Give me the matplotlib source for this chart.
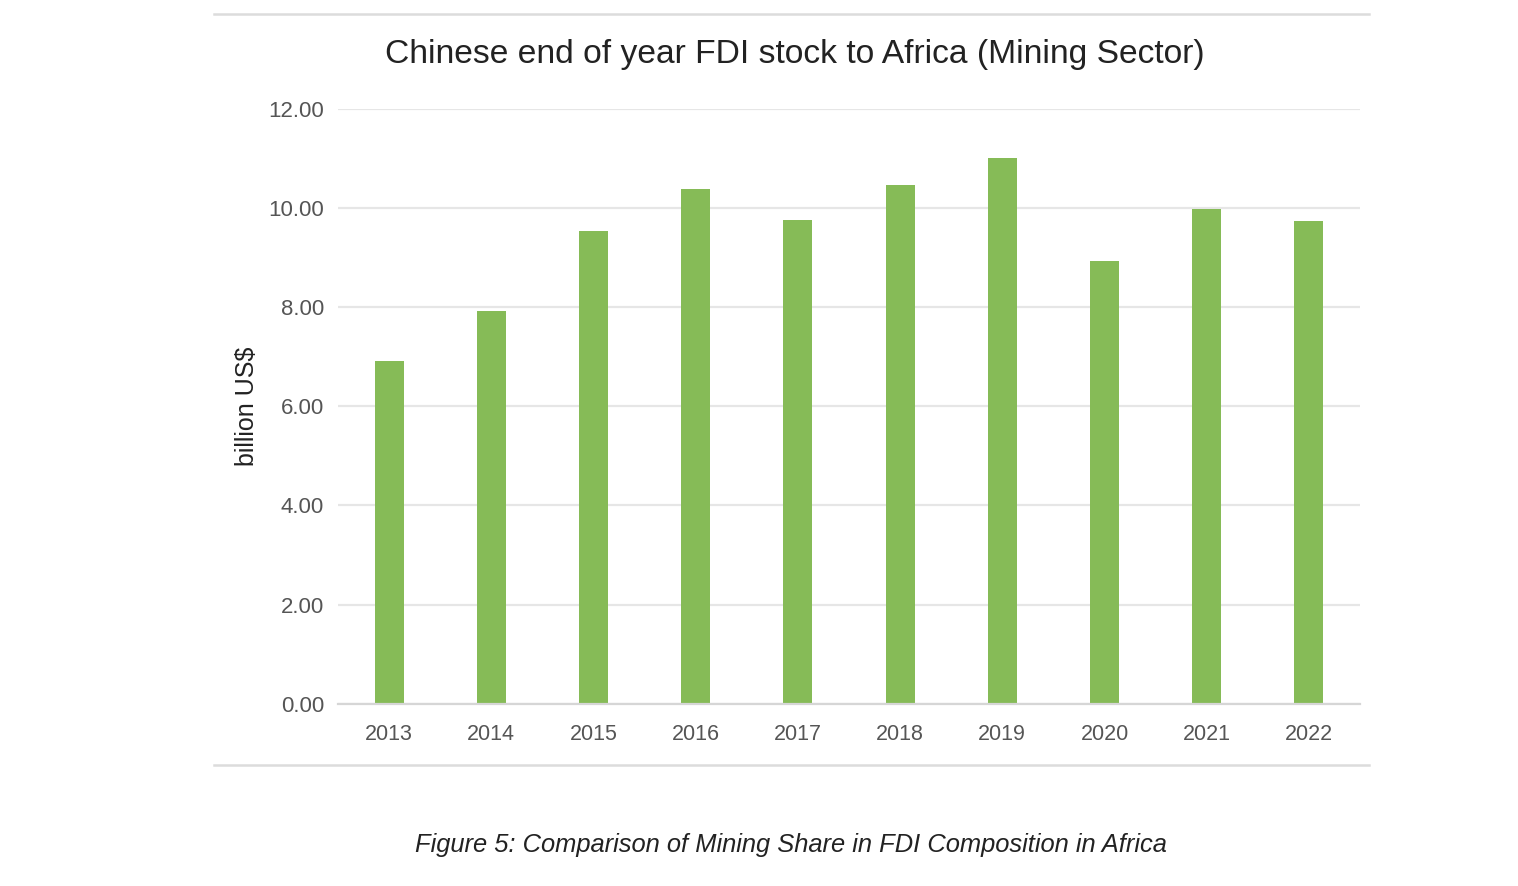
import matplotlib
matplotlib.use("Agg")
import matplotlib.pyplot as plt
from matplotlib.lines import Line2D

years = ["2013", "2014", "2015", "2016", "2017", "2018", "2019", "2020", "2021", "2022"]
values = [6.91, 7.92, 9.53, 10.38, 9.77, 10.46, 11.02, 8.93, 9.98, 9.73]
yticks = [0, 2, 4, 6, 8, 10, 12]

title = "Chinese end of year FDI stock to Africa (Mining Sector)"
ylabel = "billion US$"
caption = "Figure 5: Comparison of Mining Share in FDI Composition in Africa"

W, H = 1518, 886
fig = plt.figure(figsize=(W / 100, H / 100), dpi=100)
plt.rcParams['font.family'] = ['Liberation Sans', 'DejaVu Sans']

ax = fig.add_axes([338 / W, 1 - 703.7 / H, (1360 - 338) / W, (703.7 - 109) / H])
x = list(range(len(years)))
ax.bar(x, values, width=0.285, color="#86BB57", zorder=3)
ax.set_xlim(-0.5, len(years) - 0.5)
ax.set_ylim(0, 12)
ax.set_yticks(yticks)
ax.set_yticklabels([f"{v:.2f}" for v in yticks])
ax.set_xticks(x)
ax.set_xticklabels(years)
ax.tick_params(axis='y', length=0, labelsize=16, colors="#555555", pad=10)
ax.tick_params(axis='x', length=0, labelsize=15.5, colors="#555555", pad=14.5)
ax.grid(axis='y', color="#e6e6e6", linewidth=1.6, zorder=0)
for s in ["top", "right", "left"]:
    ax.spines[s].set_visible(False)
ax.spines["bottom"].set_color("#d6d6d6")
ax.spines["bottom"].set_linewidth(1.6)
ax.spines["bottom"].set_zorder(4)

fig.text(247.5 / W, 1 - 406 / H, ylabel, rotation=90, ha='center', va='center',
         fontsize=18, color="#222222")
fig.text(795 / W, 1 - 55 / H, title, ha='center', va='center',
         fontsize=24.2, color="#222222")
fig.text(791 / W, 1 - 845 / H, caption, ha='center', va='center',
         fontsize=18.4, style='italic', color="#222222")

for yy in (14, 765):
    fig.add_artist(Line2D([214 / W, 1369 / W], [1 - yy / H, 1 - yy / H],
                          transform=fig.transFigure, color="#dcdcdc", linewidth=1.8))

fig.savefig("out.png", dpi=100)
